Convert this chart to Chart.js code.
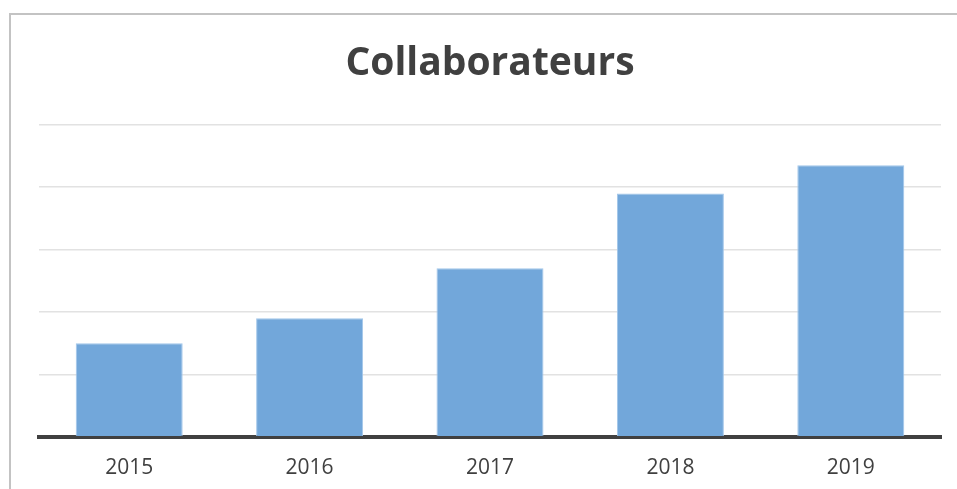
<!DOCTYPE html>
<html>
<head>
<meta charset="utf-8">
<script src="https://cdn.jsdelivr.net/npm/chart.js@4"></script>
<style>
    html, body { margin: 0; padding: 0; background: #fff; overflow: hidden; }
    #frame {
        position: absolute; left: 9px; top: 13px; width: 960px; height: 490px;
        border-left: 2px solid #c3c3c3; border-top: 2px solid #c3c3c3;
    }
    #wrap { position: absolute; left: 0; top: 0; width: 957px; height: 510px; }
</style>
</head>
<body>
<div id="frame"></div>
<div id="wrap"><canvas id="chart"></canvas></div>
<script>
const years = ['2015', '2016', '2017', '2018', '2019'];
const collaborateurs = [15, 19, 27, 39, 43.5];
const yMax = 50;
const yStep = 10;

const textColor = '#404040';

new Chart(document.getElementById('chart'), {
    type: 'bar',
    data: {
        labels: years,
        datasets: [{
            label: 'Collaborateurs',
            data: collaborateurs,
            backgroundColor: '#72a7da',
            borderColor: '#a2c6ea',
            borderWidth: 1,
            categoryPercentage: 1,
            barPercentage: 0.593
        }]
    },
    options: {
        responsive: true,
        maintainAspectRatio: false,
        animation: false,
        layout: { padding: { left: 39, right: 16, top: 0, bottom: 10 } },
        plugins: {
            legend: { display: false },
            tooltip: { enabled: false },
            title: {
                display: true,
                text: 'Collaborateurs',
                color: textColor,
                font: { family: 'Open Sans', size: 39, weight: 'bold', lineHeight: 1.2 },
                padding: { top: 40, bottom: 38 }
            }
        },
        scales: {
            x: {
                grid: { display: false, drawTicks: false },
                border: { display: true, color: '#404040', width: 4 },
                ticks: {
                    color: textColor,
                    padding: 19,
                    font: { family: 'Open Sans', size: 21 }
                }
            },
            y: {
                min: 0,
                max: yMax,
                ticks: { display: false, stepSize: yStep },
                grid: { color: '#e2e2e2', lineWidth: 1.5, drawTicks: false },
                border: { display: false }
            }
        }
    }
});
</script>
</body>
</html>
